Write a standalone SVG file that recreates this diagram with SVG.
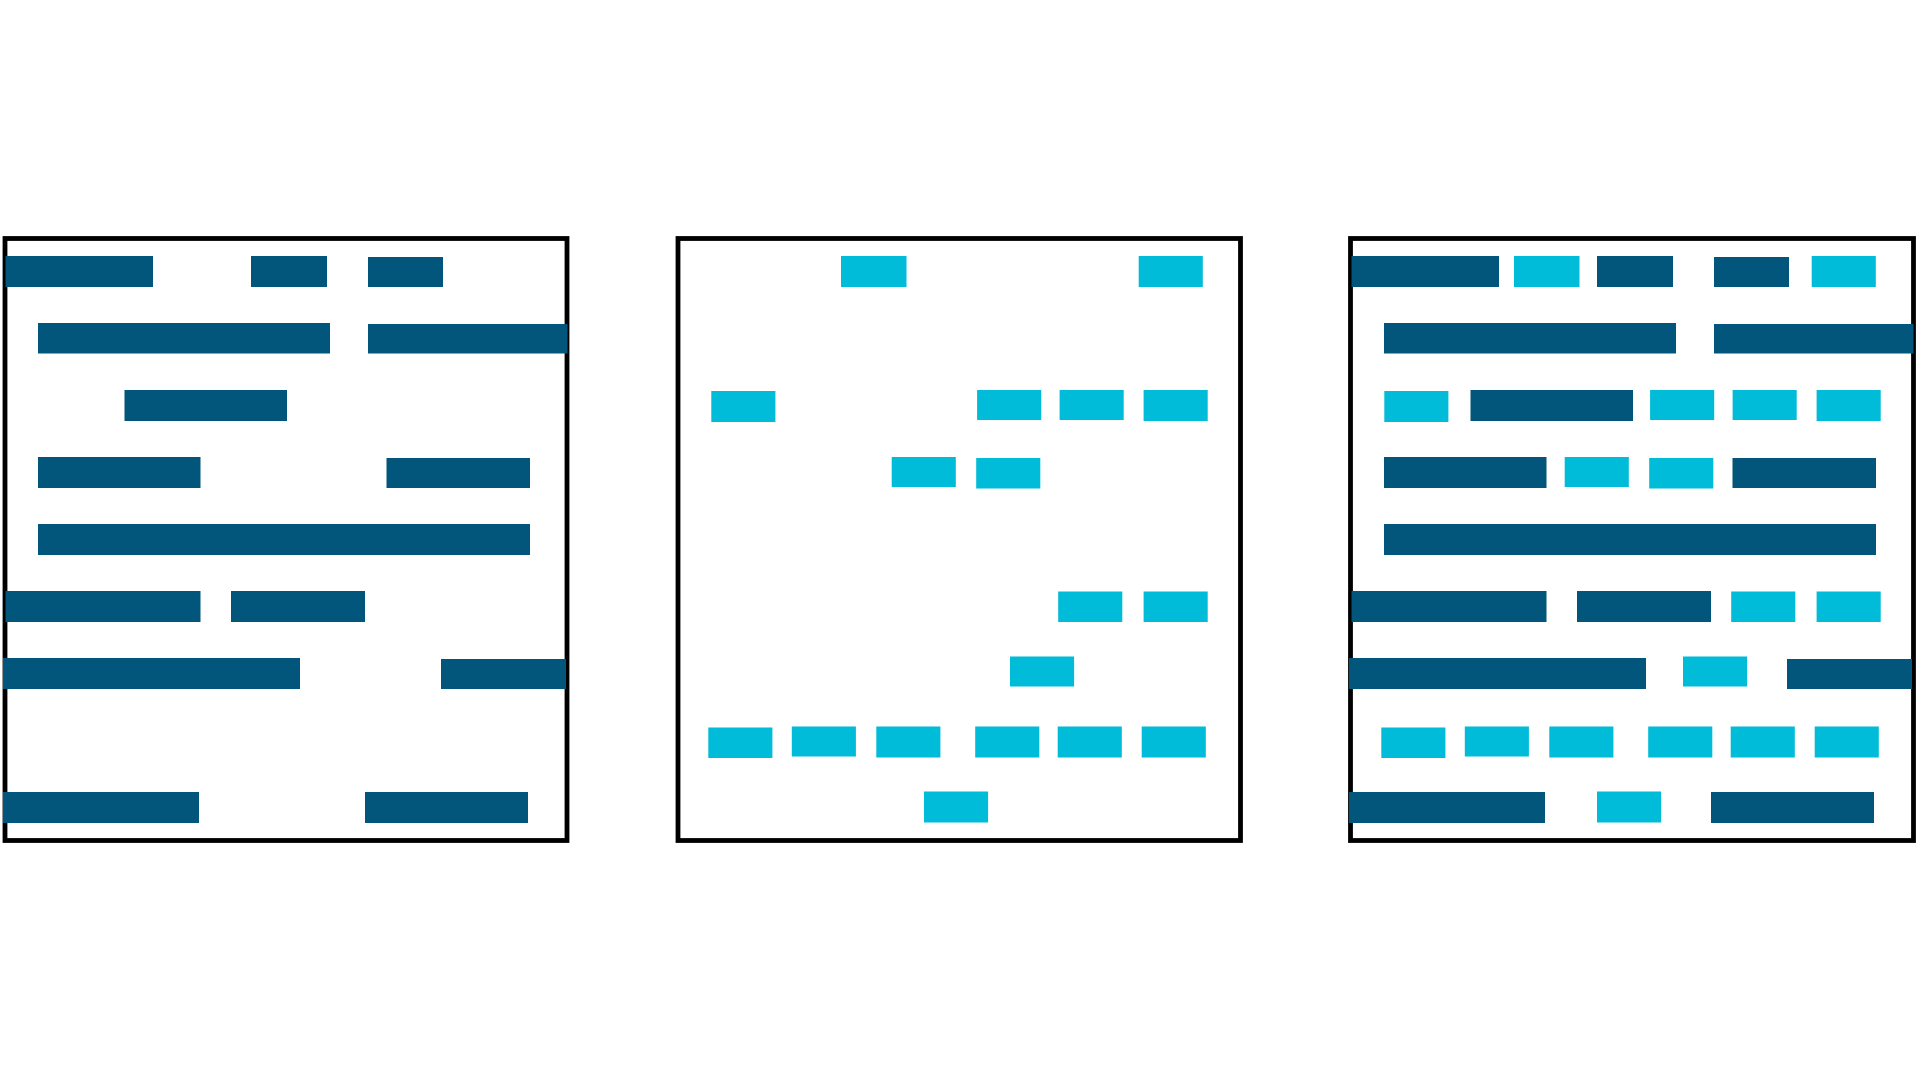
<svg xmlns="http://www.w3.org/2000/svg" xmlns:xlink="http://www.w3.org/1999/xlink" width="1920" height="1080" viewBox="0 0 1920 1080">
  <style>
    .frame { fill: none; stroke: #000000; stroke-width: 4.8; }
    .d { fill: #02557b; }
    .c { fill: #00bcd8; }
  </style>
  <defs>
    <g id="bars-dark">
      <rect class="d" x="5.5" y="256" width="147.5" height="31"/>
      <rect class="d" x="251" y="256" width="76" height="31"/>
      <rect class="d" x="368" y="257" width="75" height="30"/>
      <rect class="d" x="38" y="323" width="292" height="30.5"/>
      <rect class="d" x="368" y="324" width="199.5" height="29.5"/>
      <rect class="d" x="124.5" y="390" width="162.5" height="31"/>
      <rect class="d" x="38" y="457" width="162.5" height="31"/>
      <rect class="d" x="386.5" y="458" width="143.5" height="30"/>
      <rect class="d" x="38" y="524" width="492" height="31"/>
      <rect class="d" x="5.5" y="591" width="195" height="31"/>
      <rect class="d" x="231" y="591" width="134" height="31"/>
      <rect class="d" x="3" y="658" width="297" height="31"/>
      <rect class="d" x="441" y="659" width="125" height="30"/>
      <rect class="d" x="3" y="792" width="196" height="31"/>
      <rect class="d" x="365" y="792" width="163" height="31"/>
    </g>
    <g id="bars-cyan">
      <rect class="c" x="841" y="256" width="65.5" height="31"/>
      <rect class="c" x="1138.7" y="256" width="64.1" height="31"/>
      <rect class="c" x="711.3" y="391" width="64.1" height="31"/>
      <rect class="c" x="977.1" y="390" width="64.1" height="30"/>
      <rect class="c" x="1059.6" y="390" width="64.1" height="30"/>
      <rect class="c" x="1143.6" y="390" width="64.1" height="31"/>
      <rect class="c" x="891.7" y="457" width="64.1" height="30"/>
      <rect class="c" x="976.2" y="458" width="64.1" height="30.5"/>
      <rect class="c" x="1058.2" y="591.5" width="64.1" height="30.5"/>
      <rect class="c" x="1143.6" y="591.5" width="64.1" height="30.5"/>
      <rect class="c" x="1010" y="656.5" width="64.1" height="30"/>
      <rect class="c" x="708.3" y="727.5" width="64.1" height="30.5"/>
      <rect class="c" x="791.8" y="726.5" width="64.1" height="30"/>
      <rect class="c" x="876.3" y="726.5" width="64.1" height="31"/>
      <rect class="c" x="975.2" y="726.5" width="64.1" height="31"/>
      <rect class="c" x="1057.7" y="726.5" width="64.1" height="31"/>
      <rect class="c" x="1141.7" y="726.5" width="64.1" height="31"/>
      <rect class="c" x="924" y="791.5" width="64.1" height="31"/>
    </g>
  </defs>
  <rect x="0" y="0" width="1920" height="1080" fill="#ffffff"/>
  <g id="panel-dark">
    <rect class="frame" x="5" y="238.5" width="562" height="602"/>
    <use xlink:href="#bars-dark" href="#bars-dark"/>
  </g>
  <g id="panel-cyan">
    <rect class="frame" x="678" y="238.5" width="562.5" height="602"/>
    <use xlink:href="#bars-cyan" href="#bars-cyan"/>
  </g>
  <g id="panel-combined">
    <rect class="frame" x="1350.5" y="238.5" width="563" height="602"/>
    <use xlink:href="#bars-dark" href="#bars-dark" x="1346"/>
    <use xlink:href="#bars-cyan" href="#bars-cyan" x="673"/>
  </g>
  <g id="connectors"/>
</svg>
